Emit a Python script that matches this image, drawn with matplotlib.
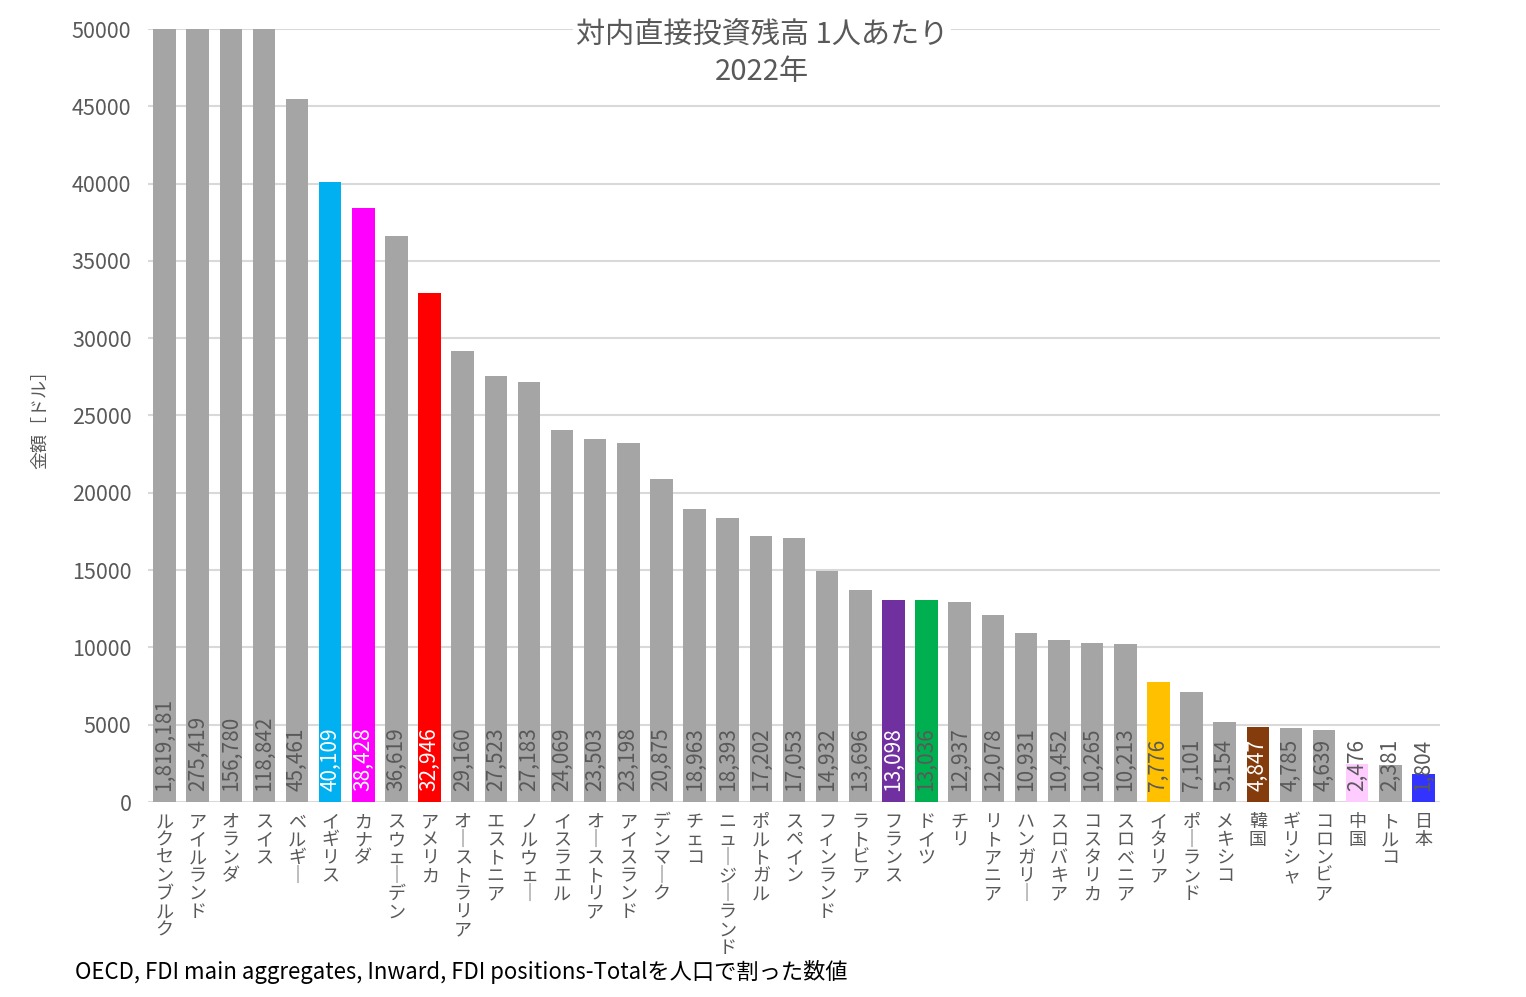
import matplotlib
matplotlib.use("Agg")
import matplotlib.pyplot as plt

plt.rcParams['font.family'] = ['Noto Sans CJK JP', 'DejaVu Sans']

countries = ["ルクセンブルク", "アイルランド", "オランダ", "スイス", "ベルギー", "イギリス", "カナダ",
             "スウェーデン", "アメリカ", "オーストラリア", "エストニア", "ノルウェー", "イスラエル",
             "オーストリア", "アイスランド", "デンマーク", "チェコ", "ニュージーランド", "ポルトガル",
             "スペイン", "フィンランド", "ラトビア", "フランス", "ドイツ", "チリ", "リトアニア",
             "ハンガリー", "スロバキア", "コスタリカ", "スロベニア", "イタリア", "ポーランド",
             "メキシコ", "韓国", "ギリシャ", "コロンビア", "中国", "トルコ", "日本"]
values = [1819181, 275419, 156780, 118842, 45461, 40109, 38428, 36619, 32946, 29160, 27523,
          27183, 24069, 23503, 23198, 20875, 18963, 18393, 17202, 17053, 14932, 13696, 13098,
          13036, 12937, 12078, 10931, 10452, 10265, 10213, 7776, 7101, 5154, 4847, 4785, 4639,
          2476, 2381, 1804]
highlight_colors = {"イギリス": "#00B0F0", "カナダ": "#FF00FF", "アメリカ": "#FF0000",
                    "フランス": "#7030A0", "ドイツ": "#00B050", "イタリア": "#FFC000",
                    "韓国": "#843C0C", "中国": "#FFCCFF", "日本": "#3333FF"}
white_label = {"イギリス", "カナダ", "アメリカ", "フランス", "韓国"}
title = "対内直接投資残高 1人あたり\n2022年"
ylabel = "金額［ドル］"
source = "OECD, FDI main aggregates, Inward, FDI positions-Totalを人口で割った数値"
yticks = [0, 5000, 10000, 15000, 20000, 25000, 30000, 35000, 40000, 45000, 50000]

GRAY = "#A5A5A5"
TXT = "#595959"

fig = plt.figure(figsize=(15.26, 9.97), dpi=100)
ax = fig.add_axes([148 / 1526, 1 - 802 / 997, (1440 - 148) / 1526, (802 - 29) / 997])

x = list(range(len(countries)))
colors = [highlight_colors.get(c, GRAY) for c in countries]
ax.bar(x, values, width=0.68, color=colors, zorder=2)

ax.set_xlim(-0.5, len(countries) - 0.5)
ax.set_ylim(0, 50000)
ax.set_yticks(yticks)
ax.set_yticklabels([str(v) for v in yticks], fontsize=15.5, color=TXT)
ax.yaxis.grid(True, color="#D9D9D9", linewidth=1.5, zorder=0)
ax.set_axisbelow(True)
for s in ax.spines.values():
    s.set_visible(False)
ax.tick_params(axis='both', length=0, pad=12)

def vert(s):
    return "\n".join("｜" if ch == "ー" else ch for ch in s)

ax.set_xticks(x)
ax.set_xticklabels([vert(c) for c in countries], fontsize=13, color=TXT,
                   va='top', linespacing=1.0)
ax.tick_params(axis='x', pad=8)

for xi, v, c in zip(x, values, countries):
    ax.text(xi, 700, f"{v:,}", rotation=90, ha='center', va='bottom',
            fontsize=15, color="white" if c in white_label else TXT, zorder=3)

fig.text(762 / 1526, 1 - 54 / 997, title, ha='center', va='center',
         fontsize=21, color=TXT, linespacing=1.25,
         bbox=dict(facecolor='white', edgecolor='none', pad=2), zorder=4)

fig.text(40 / 1526, 1 - 415 / 997, ylabel, rotation=90, ha='center', va='center',
         fontsize=13, color=TXT)
fig.text(75 / 1526, 1 - 972 / 997, source, ha='left', va='center', fontsize=16, color="black")

fig.savefig("out.png", dpi=100, facecolor="white")
